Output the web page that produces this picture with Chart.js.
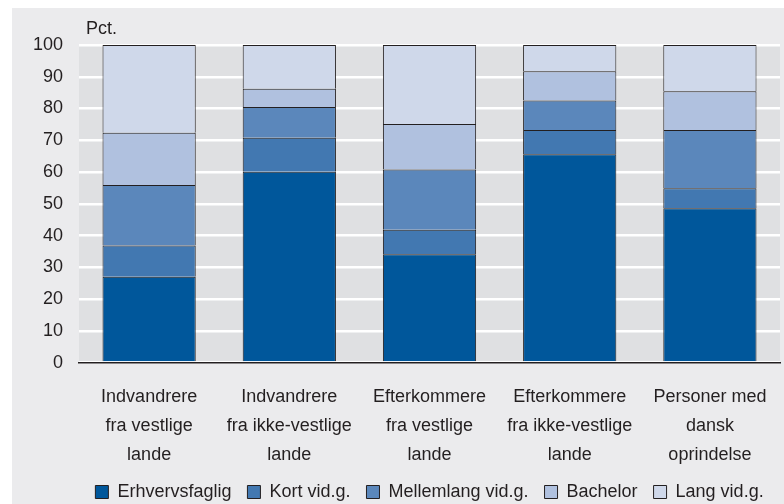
<!DOCTYPE html>
<html>
<head>
<meta charset="utf-8">
<script src="https://cdn.jsdelivr.net/npm/chart.js@4"></script>
<style>
  body { margin: 0; background: #fff; }
  #wrap { width: 784px; height: 504px; }
</style>
</head>
<body>
<div id="wrap"><canvas id="myChart" width="784" height="504"></canvas></div>
<script>
// Categories (multi-line tick labels)
var categories = [
  ['Indvandrere', 'fra vestlige', 'lande'],
  ['Indvandrere', 'fra ikke-vestlige', 'lande'],
  ['Efterkommere', 'fra vestlige', 'lande'],
  ['Efterkommere', 'fra ikke-vestlige', 'lande'],
  ['Personer med', 'dansk', 'oprindelse']
];
var seriesNames = ['Erhvervsfaglig', 'Kort vid.g.', 'Mellemlang vid.g.', 'Bachelor', 'Lang vid.g.'];

// Percentages
var erhvervsfaglig = [27.0, 60.1, 34.1, 65.6, 48.6];
var kortVid = [9.9, 10.7, 7.7, 7.6, 6.3];
var mellemlangVid = [19.0, 9.7, 19.0, 9.3, 18.3];
var bachelor = [16.5, 5.7, 14.3, 9.2, 12.2];
var langVid = [27.6, 13.8, 24.9, 8.3, 14.6];

var colors = ['#00579B', '#4278B1', '#5B87BB', '#B0C1DF', '#CFD8EA'];
var FONT = 'Liberation Sans, Arial, sans-serif';
var TEXT = '#231F20';

// Backgrounds and the "Pct." label
var bgPlugin = {
  id: 'bg',
  beforeDraw: function(chart) {
    var c = chart.ctx, a = chart.chartArea;
    c.save();
    c.fillStyle = '#ffffff';
    c.fillRect(0, 0, chart.width, chart.height);
    c.fillStyle = '#EBEBED';
    c.fillRect(12, 8, chart.width - 12, chart.height - 8);
    c.fillStyle = '#DFE0E2';
    c.fillRect(a.left, a.top, a.right - a.left, a.bottom - a.top);
    c.restore();
  },
  afterDraw: function(chart) {
    var c = chart.ctx, a = chart.chartArea;
    c.save();
    c.fillStyle = TEXT;
    c.font = '18px ' + FONT;
    c.textBaseline = 'middle';
    c.fillText('Pct.', a.left + 7, a.top - 16);
    c.restore();
  }
};

var allData = [erhvervsfaglig, kortVid, mellemlangVid, bachelor, langVid];
var datasets = [];
for (var i = 0; i < seriesNames.length; i++) {
  datasets.push({
    label: seriesNames[i],
    data: allData[i],
    backgroundColor: colors[i],
    borderColor: '#231F20',
    borderWidth: 1,
    barPercentage: 0.665,
    categoryPercentage: 1
  });
}

var ctx = document.getElementById('myChart').getContext('2d');
var myChart = new Chart(ctx, {
  type: 'bar',
  data: { labels: categories, datasets: datasets },
  plugins: [bgPlugin],
  options: {
    responsive: false,
    animation: false,
    layout: { padding: { left: 17, right: 4, top: 45, bottom: -7 } },
    plugins: {
      tooltip: { enabled: false },
      legend: {
        position: 'bottom',
        fullSize: false,
        labels: {
          color: TEXT,
          font: { family: FONT, size: 18 },
          boxWidth: 13,
          boxHeight: 13,
          padding: 16,
          useBorderRadius: false
        }
      }
    },
    scales: {
      x: {
        stacked: true,
        grid: { display: false },
        border: { display: true, color: '#231F20', width: 1.5 },
        ticks: {
          color: TEXT,
          padding: 12,
          maxRotation: 0,
          font: { family: FONT, size: 18, lineHeight: 1.6 }
        },
        afterFit: function(scale) {
          // tighten the gap between tick labels and legend
          scale.height -= 14;
        }
      },
      y: {
        stacked: true,
        min: 0,
        max: 100,
        ticks: {
          stepSize: 10,
          color: TEXT,
          padding: 16,
          font: { family: FONT, size: 18 }
        },
        grid: { color: '#ffffff', lineWidth: 2.5, drawTicks: false },
        border: { display: false }
      }
    }
  }
});
</script>
</body>
</html>
